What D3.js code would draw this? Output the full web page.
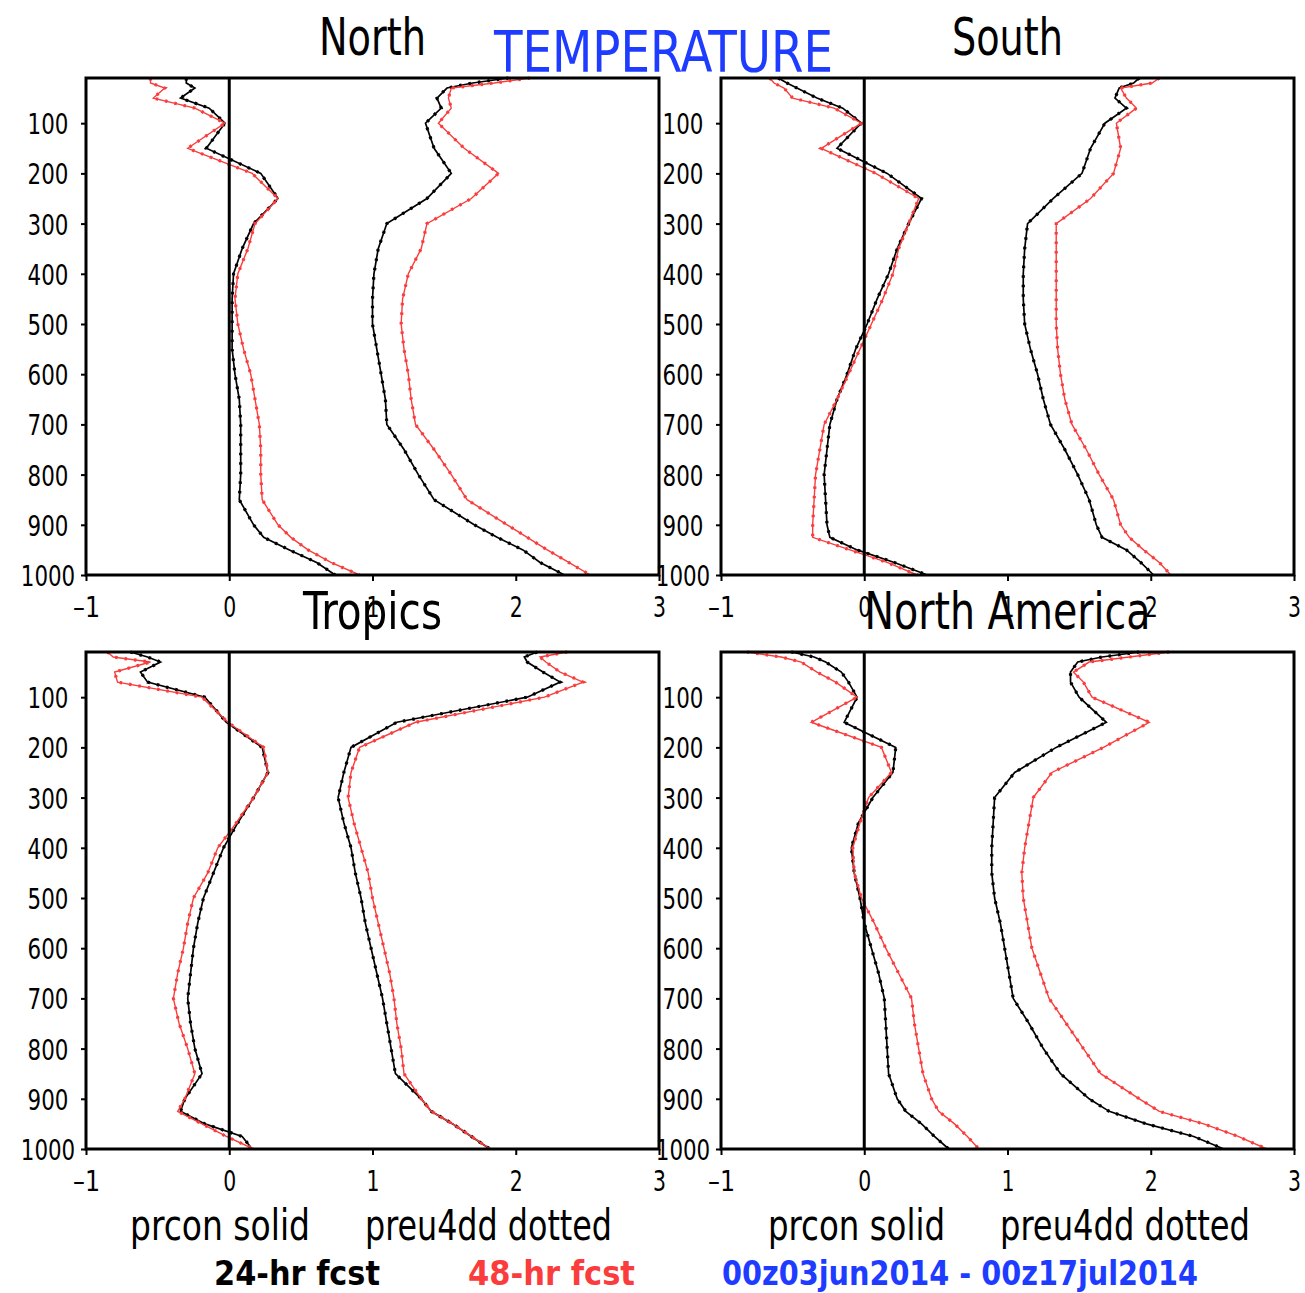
<!DOCTYPE html>
<html>
<head>
<meta charset="utf-8">
<script src="https://cdn.jsdelivr.net/npm/d3@7"></script>
<style>
  body { margin: 0; background: #fff; }
  text { font-family: "Liberation Sans Narrow", "DejaVu Sans", sans-serif; font-stretch: condensed; }
</style>
</head>
<body>
<div id="chart"></div>
<script>
// pressure levels (hPa)
var levels = [10, 20, 30, 50, 70, 100, 150, 200, 250, 300, 350, 400, 450, 500, 550,
  600, 650, 700, 750, 800, 850, 900, 925, 950, 975, 1000];

// North
var northBias24 = [-0.30, -0.30, -0.24, -0.34, -0.14, -0.03, -0.16, 0.22, 0.34, 0.17, 0.09, 0.03, 0.02, 0.02, 0.02,
  0.04, 0.07, 0.08, 0.08, 0.08, 0.07, 0.17, 0.24, 0.42, 0.61, 0.74];
var northBias48 = [-0.55, -0.55, -0.45, -0.53, -0.24, -0.03, -0.29, 0.16, 0.34, 0.18, 0.13, 0.06, 0.04, 0.06, 0.10,
  0.15, 0.18, 0.21, 0.22, 0.22, 0.23, 0.34, 0.43, 0.55, 0.71, 0.91];
var northRms24 = [1.95, 1.70, 1.52, 1.45, 1.48, 1.37, 1.43, 1.55, 1.38, 1.10, 1.04, 1.01, 1.00, 1.00, 1.03,
  1.06, 1.09, 1.10, 1.22, 1.32, 1.43, 1.71, 1.87, 2.05, 2.17, 2.34];
var northRms48 = [2.10, 1.85, 1.55, 1.53, 1.55, 1.46, 1.64, 1.88, 1.69, 1.38, 1.34, 1.25, 1.21, 1.20, 1.22,
  1.25, 1.27, 1.30, 1.43, 1.55, 1.66, 1.94, 2.08, 2.22, 2.37, 2.52];

// South
var southBias24 = [-0.60, -0.54, -0.47, -0.33, -0.15, -0.02, -0.19, 0.16, 0.40, 0.31, 0.23, 0.17, 0.09, 0.02, -0.06,
  -0.12, -0.19, -0.24, -0.26, -0.28, -0.27, -0.26, -0.24, -0.05, 0.21, 0.44];
var southBias48 = [-0.66, -0.63, -0.56, -0.50, -0.21, -0.02, -0.30, 0.08, 0.38, 0.31, 0.24, 0.20, 0.13, 0.05, -0.03,
  -0.11, -0.19, -0.28, -0.31, -0.34, -0.35, -0.36, -0.36, -0.10, 0.16, 0.37];
var southRms24 = [1.92, 1.88, 1.78, 1.75, 1.83, 1.68, 1.58, 1.52, 1.32, 1.14, 1.12, 1.11, 1.11, 1.12, 1.16,
  1.21, 1.25, 1.30, 1.40, 1.49, 1.57, 1.62, 1.66, 1.83, 1.93, 2.02];
var southRms48 = [2.06, 2.01, 1.79, 1.83, 1.90, 1.76, 1.79, 1.74, 1.58, 1.34, 1.34, 1.34, 1.34, 1.34, 1.35,
  1.37, 1.40, 1.45, 1.55, 1.64, 1.74, 1.79, 1.85, 1.95, 2.06, 2.14];

// Tropics
var tropicsBias24 = [-0.69, -0.57, -0.48, -0.62, -0.57, -0.17, -0.02, 0.23, 0.27, 0.17, 0.06, -0.04, -0.11, -0.18, -0.22,
  -0.25, -0.27, -0.29, -0.27, -0.24, -0.19, -0.31, -0.34, -0.17, 0.09, 0.16];
var tropicsBias48 = [-0.85, -0.81, -0.55, -0.80, -0.78, -0.19, -0.01, 0.24, 0.27, 0.17, 0.05, -0.08, -0.15, -0.25, -0.29,
  -0.32, -0.36, -0.39, -0.35, -0.29, -0.24, -0.31, -0.36, -0.19, -0.02, 0.17];
var tropicsRms24 = [2.15, 2.06, 2.08, 2.19, 2.31, 2.08, 1.17, 0.85, 0.80, 0.76, 0.80, 0.85, 0.88, 0.92, 0.95,
  0.99, 1.03, 1.07, 1.10, 1.13, 1.16, 1.34, 1.41, 1.56, 1.69, 1.82];
var tropicsRms48 = [2.36, 2.17, 2.21, 2.31, 2.47, 2.20, 1.30, 0.91, 0.85, 0.83, 0.87, 0.92, 0.97, 1.00, 1.04,
  1.08, 1.12, 1.15, 1.17, 1.20, 1.22, 1.34, 1.41, 1.56, 1.69, 1.82];

// North America
var naBias24 = [-0.51, -0.35, -0.27, -0.16, -0.11, -0.05, -0.14, 0.22, 0.20, 0.06, -0.04, -0.09, -0.07, -0.03, 0.00,
  0.05, 0.10, 0.14, 0.15, 0.16, 0.17, 0.23, 0.29, 0.40, 0.49, 0.59];
var naBias48 = [-0.82, -0.58, -0.44, -0.33, -0.20, -0.05, -0.37, 0.12, 0.19, 0.03, -0.03, -0.08, -0.07, -0.02, 0.07,
  0.15, 0.24, 0.33, 0.35, 0.38, 0.41, 0.47, 0.52, 0.63, 0.72, 0.80];
var naRms24 = [1.92, 1.66, 1.49, 1.44, 1.44, 1.50, 1.69, 1.34, 1.05, 0.91, 0.90, 0.89, 0.89, 0.91, 0.95,
  0.98, 1.01, 1.04, 1.15, 1.25, 1.37, 1.57, 1.71, 1.97, 2.30, 2.51];
var naRms48 = [2.13, 1.85, 1.57, 1.46, 1.53, 1.59, 1.99, 1.67, 1.31, 1.18, 1.15, 1.12, 1.10, 1.11, 1.14,
  1.17, 1.23, 1.29, 1.41, 1.53, 1.65, 1.92, 2.06, 2.37, 2.61, 2.81];

var xTicks = [-1, 0, 1, 2, 3];
var yTicks = [100, 200, 300, 400, 500, 600, 700, 800, 900, 1000];

var red = "#fa3c3c";
var blue = "#1e3cff";

var svgWidth = 1305;
var svgHeight = 1293;
var panelW = 573;
var panelH = 497;

var svg = d3.select("#chart")
  .append("svg")
  .attr("width", svgWidth)
  .attr("height", svgHeight);

var xScale = d3.scaleLinear().domain([-1, 3]).range([0, panelW]);
var yScale = d3.scaleLinear().domain([10, 1000]).range([0, panelH]);

var panels = [
  { title: "North", left: 86, top: 78, titleW: 107, series: [northBias24, northBias48, northRms24, northRms48] },
  { title: "South", left: 721, top: 78, titleW: 111, series: [southBias24, southBias48, southRms24, southRms48] },
  { title: "Tropics", left: 86, top: 652, titleW: 139, series: [tropicsBias24, tropicsBias48, tropicsRms24, tropicsRms48] },
  { title: "North America", left: 721, top: 652, titleW: 286, series: [naBias24, naBias48, naRms24, naRms48] }
];

var line = d3.line()
  .x(d => xScale(d.v))
  .y(d => yScale(d.p));

panels.forEach(function(panel) {
  var g = svg.append("g")
    .attr("transform", `translate(${panel.left}, ${panel.top})`);

  // y axis
  var leftAxis = d3.axisLeft(yScale).tickValues(yTicks).tickSize(5).tickSizeOuter(0)
    .tickFormat(d3.format("d"));
  var yAxis = g.append("g").call(leftAxis);
  yAxis.select(".domain").remove();
  yAxis.selectAll("line").attr("stroke", "#000").attr("stroke-width", 2);
  yAxis.selectAll("text")
    .attr("x", -38)
    .attr("dy", "0.36em")
    .attr("text-anchor", "middle")
    .attr("font-size", 29)
    .attr("textLength", d => String(d).length * 13.6)
    .attr("lengthAdjust", "spacingAndGlyphs")
    .attr("fill", "#000");

  // x axis
  var bottomAxis = d3.axisBottom(xScale).tickValues(xTicks).tickSize(6).tickSizeOuter(0)
    .tickFormat(d => d < 0 ? "\u2013" + Math.abs(d) : d);
  var xAxis = g.append("g")
    .attr("transform", `translate(0, ${panelH})`)
    .call(bottomAxis);
  xAxis.select(".domain").remove();
  xAxis.selectAll("line").attr("stroke", "#000").attr("stroke-width", 2);
  xAxis.selectAll("text")
    .attr("y", 42)
    .attr("dy", 0)
    .attr("font-size", 29)
    .attr("textLength", d => d < 0 ? 27 : 13)
    .attr("lengthAdjust", "spacingAndGlyphs")
    .attr("fill", "#000");

  // series: 24-hr black, 48-hr red
  panel.series.forEach(function(vals, i) {
    var color = (i % 2 === 0) ? "#000" : red;
    var pts = levels.map((p, j) => ({ p: p, v: vals[j] }));
    // prcon solid
    g.append("path")
      .datum(pts)
      .attr("fill", "none")
      .attr("stroke", color)
      .attr("stroke-width", i % 2 === 0 ? 1.7 : 1.4)
      .attr("d", line);
    // preu4dd dotted
    g.append("path")
      .datum(pts)
      .attr("fill", "none")
      .attr("stroke", color)
      .attr("stroke-width", 3.2)
      .attr("stroke-dasharray", "2.5,7")
      .attr("d", line);
  });

  // zero line
  g.append("line")
    .attr("x1", xScale(0)).attr("x2", xScale(0))
    .attr("y1", 0).attr("y2", panelH)
    .attr("stroke", "#000")
    .attr("stroke-width", 3);

  // frame
  g.append("rect")
    .attr("x", 0).attr("y", 0)
    .attr("width", panelW).attr("height", panelH)
    .attr("fill", "none")
    .attr("stroke", "#000")
    .attr("stroke-width", 3);

  // panel title
  g.append("text")
    .attr("x", xScale(1))
    .attr("y", -23)
    .attr("text-anchor", "middle")
    .attr("font-size", 52)
    .attr("textLength", panel.titleW)
    .attr("lengthAdjust", "spacingAndGlyphs")
    .attr("fill", "#000")
    .text(panel.title);
});

// main title
svg.append("text")
  .attr("x", 494)
  .attr("y", 72)
  .attr("font-size", 57)
  .attr("textLength", 339)
  .attr("lengthAdjust", "spacingAndGlyphs")
  .attr("fill", blue)
  .text("TEMPERATURE");

// legend lines
var legendTexts = [
  { t: "prcon solid", x: 130, y: 1240, w: 180, size: 42, color: "#000" },
  { t: "preu4dd dotted", x: 365, y: 1240, w: 247, size: 42, color: "#000" },
  { t: "prcon solid", x: 768, y: 1240, w: 177, size: 42, color: "#000" },
  { t: "preu4dd dotted", x: 1000, y: 1240, w: 250, size: 42, color: "#000" },
  { t: "24-hr fcst", x: 214, y: 1285, w: 166, size: 33, color: "#000" },
  { t: "48-hr fcst", x: 468, y: 1285, w: 167, size: 33, color: red },
  { t: "00z03jun2014 - 00z17jul2014", x: 722, y: 1285, w: 476, size: 33, color: blue }
];

svg.selectAll("text.legend")
  .data(legendTexts)
  .enter()
  .append("text")
  .attr("class", "legend")
  .attr("x", d => d.x)
  .attr("y", d => d.y)
  .attr("font-size", d => d.size)
  .attr("textLength", d => d.w)
  .attr("lengthAdjust", "spacingAndGlyphs")
  .attr("font-weight", d => d.size < 40 ? "bold" : "normal")
  .attr("fill", d => d.color)
  .text(d => d.t);
</script>
</body>
</html>
